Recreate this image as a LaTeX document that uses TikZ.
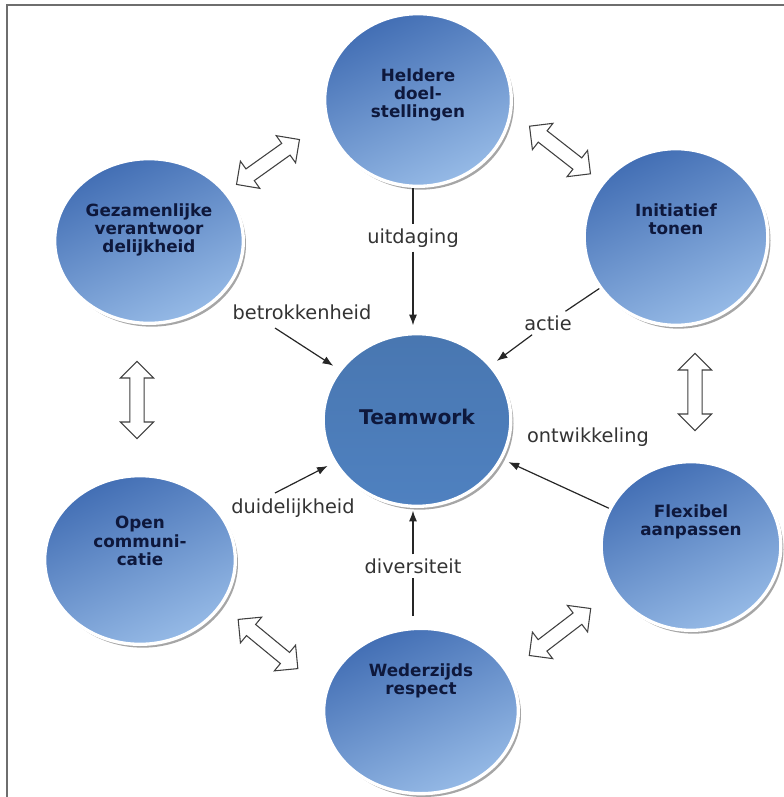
\documentclass[tikz,border=0pt]{standalone}
\usepackage{fontspec}
\setmainfont{DejaVu Sans}
\usetikzlibrary{arrows.meta, shapes.geometric, shapes.arrows, shadows}
\definecolor{bubbledark}{RGB}{66,110,180}
\definecolor{bubblelight}{RGB}{150,186,230}
\definecolor{teamblue}{RGB}{79,129,192}
\definecolor{navytext}{RGB}{14,24,60}
\definecolor{framegray}{RGB}{110,110,110}

\begin{document}
\begin{tikzpicture}[x=0.75pt, y=-0.75pt,
    bubble/.style={ellipse, draw=white, line width=2.5pt, top color=bubbledark,
      bottom color=bubblelight, shading angle=25,
      drop shadow={shadow xshift=2pt, shadow yshift=-2.5pt, fill=black, opacity=0.35}},
    btext/.style={align=center, text=navytext, font=\bfseries\fontsize{12.6}{13.8}\selectfont},
    lbl/.style={text=black!80, font=\fontsize{14.5}{17}\selectfont, inner sep=3pt},
    conn/.style={draw=black!85, line width=0.9pt},
    arr/.style={conn, -{Latex[length=8pt,width=6pt]}, shorten >=5pt},
    dbl/.style={double arrow, draw=black!75, fill=white, line width=0.8pt,
      minimum height=58pt, minimum width=25pt, inner sep=5pt}]
    \useasboundingbox (0,0) rectangle (784,797);
    % frame
    \draw[framegray, line width=1pt] (7,797) -- (7,5) -- (784,5);
    % circles
    \node[bubble, minimum width=140pt, minimum height=129.5pt] (held) at (418,100) {};
    \node[bubble, minimum width=141.5pt, minimum height=123.5pt] (gez) at (149,241) {};
    \node[bubble, minimum width=137.75pt, minimum height=132.5pt] (init) at (676,237) {};
    \node[bubble, minimum width=143pt, minimum height=126.5pt] (open) at (140,560) {};
    \node[bubble, minimum width=134.75pt, minimum height=126.5pt] (flex) at (691,546) {};
    \node[bubble, minimum width=146pt, minimum height=124pt] (wed) at (421,711) {};
    \node[bubble, top color=teamblue!92!black, bottom color=teamblue,
      minimum width=140.75pt, minimum height=129.5pt] (team) at (417,420) {};
    % circle texts
    \node[btext] (heldT) at (418,95) {Heldere\\doel-\\stellingen};
    \node[btext] (gezT) at (149,230) {Gezamenlijke\\verantwoor\\delijkheid};
    \node[btext] (initT) at (676,219) {Initiatief\\tonen};
    \node[btext] (openT) at (140,541) {Open\\communi-\\catie};
    \node[btext] (flexT) at (691,522) {Flexibel\\aanpassen};
    \node[btext] (wedT) at (421,681) {Wederzijds\\respect};
    \node[btext, font=\bfseries\fontsize{15.2}{17}\selectfont] (teamT) at (417,417) {Teamwork};
    % double arrows between the circles
    \node[dbl, rotate=35.5] (gh) at (268,162) {};
    \node[dbl, rotate=-38] (hi) at (560,150) {};
    \node[dbl, rotate=90] (go) at (137,400) {};
    \node[dbl, rotate=90] (if) at (695,392) {};
    \node[dbl, rotate=-39.5] (ow) at (268,644) {};
    \node[dbl, rotate=37.4] (wf) at (560,632) {};
    % labels
    \node[lbl] (uitd) at (413,238) {uitdaging};
    \node[lbl] (betr) at (302,312) {betrokkenheid};
    \node[lbl] (actie) at (548,323) {actie};
    \node[lbl] (ontw) at (588,437) {ontwikkeling};
    \node[lbl] (duid) at (293,508) {duidelijkheid};
    \node[lbl] (divs) at (413,566) {diversiteit};
    % connectors into teamwork
    \coordinate (betrS) at (275,328);
    \coordinate (duidS) at (275,493);
    \draw[conn] (uitd |- held.south) -- (uitd);
    \draw[arr] (uitd) -- (uitd |- team.north);
    \draw[arr] (betrS) -- (team);
    \draw[conn] (init) -- (actie);
    \draw[arr] (actie) -- (team);
    \draw[arr] (flex) -- (team);
    \draw[arr] (duidS) -- (team);
    \draw[conn, shorten <=8pt] (divs |- wed.north) -- (divs);
    \draw[arr, shorten >=2pt] (divs) -- (divs |- team.south);
\end{tikzpicture}
\end{document}
